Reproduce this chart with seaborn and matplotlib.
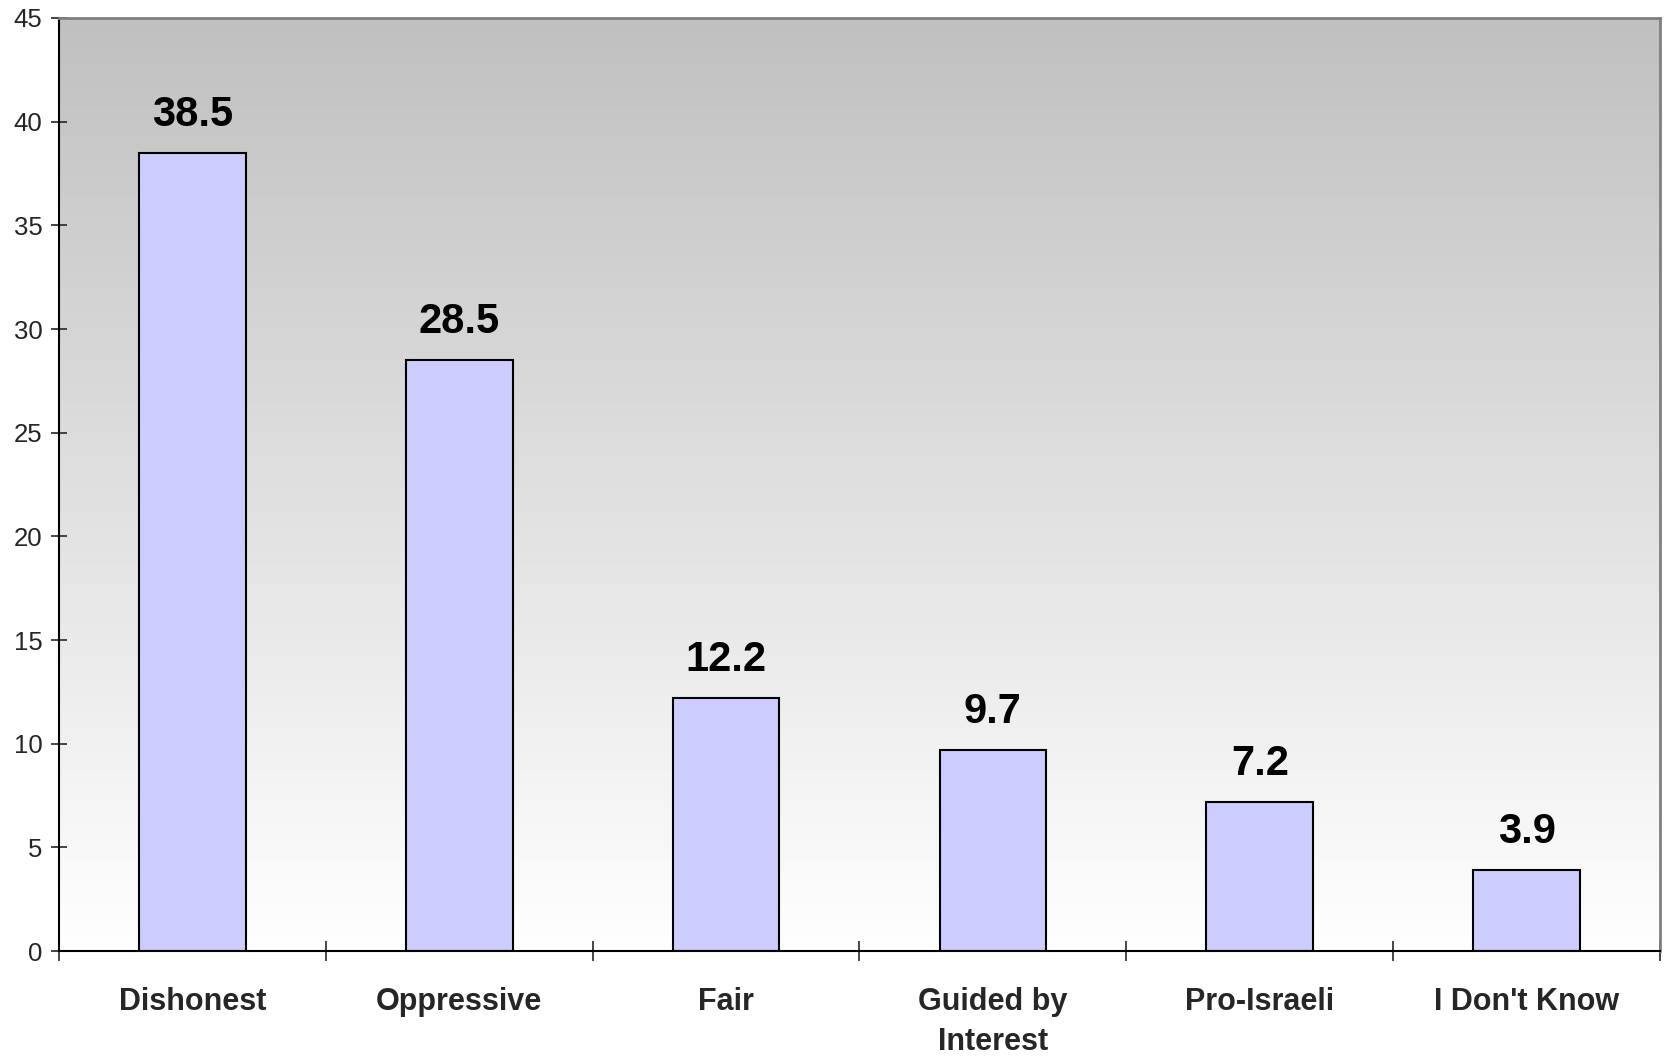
import matplotlib.pyplot as plt
import numpy as np
import pandas as pd
import seaborn as sns
from matplotlib.colors import LinearSegmentedColormap

categories = ["Dishonest", "Oppressive", "Fair", "Guided by\nInterest", "Pro-Israeli", "I Don't Know"]
values = [38.5, 28.5, 12.2, 9.7, 7.2, 3.9]
value_labels = ["38.5", "28.5", "12.2", "9.7", "7.2", "3.9"]

df = pd.DataFrame({"category": categories, "value": values})

sns.set_style("white")
plt.rcParams["font.family"] = ["Liberation Sans", "DejaVu Sans"]

fig = plt.figure(figsize=(16.65, 10.58), dpi=100)
ax = fig.add_axes([0.0354, 0.1011, 0.9616, 0.8819])

# grey-to-white gradient background
grad = np.linspace(0, 1, 256).reshape(-1, 1)
cmap = LinearSegmentedColormap.from_list("bg", ["#ffffff", "#c0c0c0"])
ax.imshow(grad, extent=[0, 1, 0, 1], transform=ax.transAxes, cmap=cmap,
          aspect="auto", origin="lower", zorder=0)

sns.barplot(data=df, x="category", y="value", color="#ccccff", saturation=1,
            edgecolor="black", linewidth=1.5, width=0.4, ax=ax, zorder=2)

for bar, lab in zip(ax.patches, value_labels):
    ax.annotate(lab, (bar.get_x() + bar.get_width() / 2, bar.get_height()),
                xytext=(0, 13), textcoords="offset points", ha="center", va="bottom",
                fontsize=30, fontweight="bold", color="black")

ax.set_xlim(-0.5, 5.5)
ax.set_ylim(0, 45)
ax.set_yticks(np.arange(0, 46, 5))
ax.tick_params(axis="y", direction="inout", length=12, width=1.2, labelsize=18.5, pad=6, left=True)
ax.set_xticks(np.arange(-0.5, 6, 1), minor=True)
ax.tick_params(axis="x", which="major", length=0, labelsize=22, pad=26)
ax.tick_params(axis="x", which="minor", direction="inout", length=15, width=1.2, bottom=True)
for t in ax.get_xticklabels():
    t.set_fontweight("bold")
    t.set_va("top")
    t.set_linespacing(1.45)
ax.set_xlabel("")
ax.set_ylabel("")

for s in ["left", "bottom"]:
    ax.spines[s].set_color("black")
    ax.spines[s].set_linewidth(1.5)
for s in ["top", "right"]:
    ax.spines[s].set_color("#808080")
    ax.spines[s].set_linewidth(2)

fig.savefig("out.png", dpi=100)
